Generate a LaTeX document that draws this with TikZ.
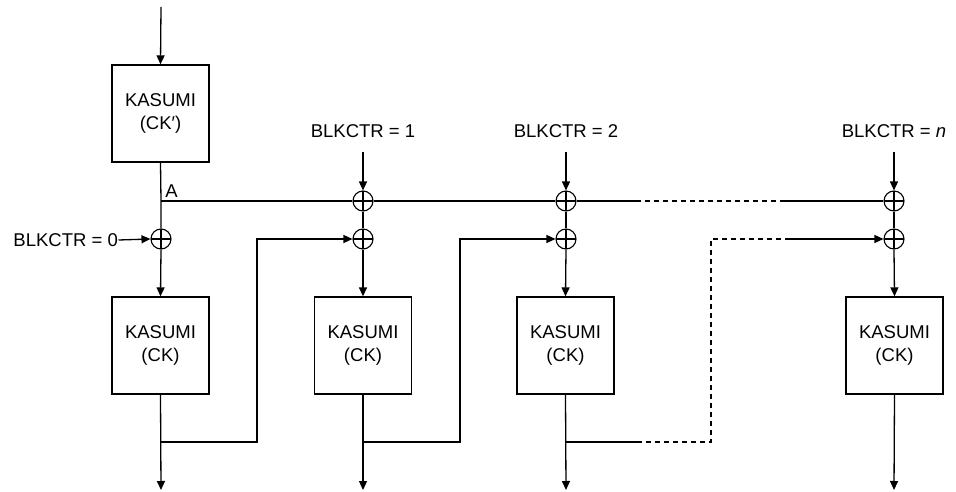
\documentclass[tikz,border=0pt]{standalone}
\usepackage{fontspec}
\setmainfont{Liberation Sans}
\usetikzlibrary{arrows.meta}
\begin{document}
\begin{tikzpicture}[x=1pt,y=-1pt,
  every node/.style={font=\fontsize{18.5}{23}\selectfont},
  line width=1.3pt,
  arr/.style={-{Triangle[length=9pt,width=8pt]}},
  kbox/.style={draw,minimum width=97pt,minimum height=97pt,align=center,inner sep=0pt},
  xorn/.style={circle,draw,minimum size=20pt,inner sep=0pt,line width=1.1pt,
    path picture={\draw[line width=1.1pt] (path picture bounding box.north) -- (path picture bounding box.south)
      (path picture bounding box.west) -- (path picture bounding box.east);}},
  lbl/.style={inner sep=0pt},
  dsh/.style={dash pattern=on 5pt off 4pt}]
\useasboundingbox (0,0) rectangle (956,492);
% top KASUMI
\coordinate (in0) at (161,7);
\node[kbox] (k0) at (160.5,113.5) {KASUMI\\(CK′)};
\draw[arr] (in0) -- (k0.north);
\coordinate (A) at (161,201);
\node[lbl] (Alab) at (171.5,191) {A};
% xor nodes
\node[xorn] (x0) at (161,239) {};
\node[xorn] (t1) at (363,201) {};
\node[xorn] (t2) at (566,201) {};
\node[xorn] (t4) at (894,201) {};
\node[xorn] (s1) at (363,239) {};
\node[xorn] (s2) at (566,239) {};
\node[xorn] (s4) at (894,239) {};
% bottom KASUMI boxes
\node[kbox] (k1) at (160.5,345.5) {KASUMI\\(CK)};
\node[kbox] (k2) at (363,345.5) {KASUMI\\(CK)};
\node[kbox] (k3) at (565.5,345.5) {KASUMI\\(CK)};
\node[kbox] (k4) at (894.5,345.5) {KASUMI\\(CK)};
% counter labels
\node[lbl,anchor=east] (b0) at (118.5,240) {BLKCTR = 0};
\node[lbl] (b1) at (363,131) {BLKCTR = 1};
\node[lbl] (b2) at (566,131) {BLKCTR = 2};
\node[lbl] (bn) at (894,131) {BLKCTR = \textit{n}};
\coordinate (a1) at (363,152);
\coordinate (a2) at (566,152);
\coordinate (an) at (894,152);
\draw[arr] (a1) -- (t1.north);
\draw[arr] (a2) -- (t2.north);
\draw[arr] (an) -- (t4.north);
\draw[arr] (b0.east) -- (x0.west);
% main vertical of column 1
\draw (k0.south) -- (A) -- (x0.north);
\draw[arr] (x0.south) -- (k1.north);
% top horizontal line
\coordinate (c1) at (636,201);
\coordinate (c2) at (785,201);
\draw (A) -- (t1.west) (t1.east) -- (t2.west) (t2.east) -- (c1);
\draw[dsh] (c1) -- (c2);
\draw (c2) -- (t4.west);
% verticals between xors
\draw (t1.south) -- (s1.north);
\draw (t2.south) -- (s2.north);
\draw (t4.south) -- (s4.north);
\draw[arr] (s1.south) -- (k2.north);
\draw[arr] (s2.south) -- (k3.north);
\draw[arr] (s4.south) -- (k4.north);
% outputs
\coordinate (o1) at (161,490);
\coordinate (o2) at (363,490);
\coordinate (o3) at (566,490);
\coordinate (o4) at (894,490);
\draw[arr] (k1.south) -- (o1);
\draw[arr] (k2.south) -- (o2);
\draw[arr] (k3.south) -- (o3);
\draw[arr] (k4.south) -- (o4);
% feedback
\coordinate (j1) at (161,442);
\coordinate (j2) at (363,442);
\coordinate (j3) at (566,442);
\coordinate (u1) at (257,239);
\coordinate (u2) at (460,239);
\draw[arr] (j1) -| (u1) -- (s1.west);
\draw[arr] (j2) -| (u2) -- (s2.west);
\coordinate (d1) at (637,442);
\coordinate (d2) at (711,239);
\coordinate (d3) at (787,239);
\draw (j3) -- (d1);
\draw[dsh] (d1) -| (d2) -- (d3);
\draw[arr] (d3) -- (s4.west);
\end{tikzpicture}
\end{document}
